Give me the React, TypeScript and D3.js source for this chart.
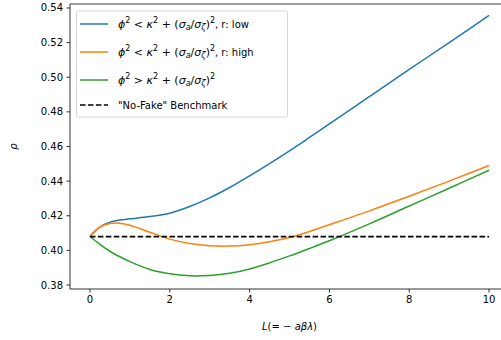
import React from 'react';
import * as d3 from 'd3';

// values
const lVals = [0, 0.25, 0.5, 0.75, 1, 1.5, 2, 2.5, 3, 3.5, 4, 4.5, 5, 5.5, 6, 7, 8, 9, 10];
const lowR = [0.408, 0.4135, 0.4163, 0.4175, 0.4182, 0.4195, 0.4215, 0.4253, 0.4303, 0.4363, 0.443, 0.4501, 0.4575, 0.4652, 0.473, 0.4888, 0.5045, 0.5200, 0.5357];
const highR = [0.408, 0.4135, 0.4155, 0.4157, 0.4145, 0.4105, 0.4065, 0.404, 0.4027, 0.4025, 0.4033, 0.405, 0.4074, 0.4109, 0.4148, 0.4228, 0.4313, 0.44, 0.449];
const overK = [0.408, 0.4035, 0.3995, 0.3963, 0.3935, 0.389, 0.3865, 0.3853, 0.3855, 0.3868, 0.3893, 0.3928, 0.3968, 0.4011, 0.4056, 0.4153, 0.4256, 0.4359, 0.4463];
const benchmark = 0.408;

const xTicks = [0, 2, 4, 6, 8, 10];
const yTicks = [0.38, 0.40, 0.42, 0.44, 0.46, 0.48, 0.50, 0.52, 0.54];

const seriesNames = ['low', 'high', 'over'];
const seriesColors = ['#1f77b4', '#ff7f0e', '#2ca02c'];

const font = 'DejaVu Sans, sans-serif';

const MathLabel: React.FC<{ x: number; y: number; op: string; tail: string }> = ({ x, y, op, tail }) => (
    <text x={x} y={y} fontFamily={font} fontSize={11} fill="#000" dominantBaseline="central">
        <tspan fontStyle="italic">ϕ</tspan>
        <tspan fontSize={8} dy={-4.5}>2</tspan>
        <tspan dy={4.5}>{' ' + op + ' '}</tspan>
        <tspan fontStyle="italic">κ</tspan>
        <tspan fontSize={8} dy={-4.5}>2</tspan>
        <tspan dy={4.5}>{' + ('}</tspan>
        <tspan fontStyle="italic">σ</tspan>
        <tspan fontStyle="italic" fontSize={8} dy={2.5}>a</tspan>
        <tspan dy={-2.5}>/</tspan>
        <tspan fontStyle="italic">σ</tspan>
        <tspan fontStyle="italic" fontSize={8} dy={2.5}>ζ</tspan>
        <tspan dy={-2.5}>)</tspan>
        <tspan fontSize={8} dy={-4.5}>2</tspan>
        <tspan dy={4.5} fontSize={10}>{tail}</tspan>
    </text>
);

export default function App() {
    const width = 501;
    const height = 340;
    const margin = { top: 4, left: 70, bottom: 289, right: 509 };

    const xScale = d3.scaleLinear().domain([-0.5, 10.5]).range([margin.left, margin.right]);
    const yScale = d3.scaleLinear().domain([0.37769, 0.54231]).range([margin.bottom, margin.top]);

    const line = d3.line<[number, number]>()
        .x(d => xScale(d[0]))
        .y(d => yScale(d[1]))
        .curve(d3.curveCatmullRom.alpha(0.5));

    const allSeries = [lowR, highR, overK];

    const legendRows = [24, 52, 80, 105];

    return (
        <div>
            <style>{`body{margin:0}`}</style>
            <svg width={width} height={height} style={{ display: 'block', background: '#fff' }}>
                <defs>
                    <clipPath id="plot">
                        <rect x={margin.left} y={margin.top} width={margin.right - margin.left} height={margin.bottom - margin.top} />
                    </clipPath>
                </defs>

                <g clipPath="url(#plot)">
                    {allSeries.map((vals, i) => (
                        <path key={seriesNames[i]}
                            d={line(lVals.map((l, j) => [l, vals[j]] as [number, number])) || ''}
                            fill="none" stroke={seriesColors[i]} strokeWidth={1.5} />
                    ))}
                    <line x1={xScale(0)} x2={xScale(10)} y1={yScale(benchmark)} y2={yScale(benchmark)}
                        stroke="#000" strokeWidth={1.7} strokeDasharray="5.55,2.4" />
                </g>

                {/* spines */}
                <line x1={margin.left} x2={margin.left} y1={margin.top} y2={margin.bottom} stroke="#000" strokeWidth={0.8} />
                <line x1={margin.left} x2={margin.right} y1={margin.bottom} y2={margin.bottom} stroke="#000" strokeWidth={0.8} />
                <line x1={margin.left} x2={margin.right} y1={margin.top} y2={margin.top} stroke="#000" strokeWidth={0.8} />

                {/* x ticks */}
                {xTicks.map(t => (
                    <g key={'x' + t}>
                        <line x1={xScale(t)} x2={xScale(t)} y1={margin.bottom} y2={margin.bottom + 3.5} stroke="#000" strokeWidth={0.8} />
                        <text x={xScale(t)} y={margin.bottom + 13.5} textAnchor="middle" fontFamily={font} fontSize={10} fill="#000">{t}</text>
                    </g>
                ))}

                {/* y ticks */}
                {yTicks.map(t => (
                    <g key={'y' + t}>
                        <line x1={margin.left - 3.5} x2={margin.left} y1={yScale(t)} y2={yScale(t)} stroke="#000" strokeWidth={0.8} />
                        <text x={margin.left - 7} y={yScale(t)} dy="0.35em" textAnchor="end" fontFamily={font} fontSize={10} fill="#000">{t.toFixed(2)}</text>
                    </g>
                ))}

                {/* axis labels */}
                <text x={xScale(5)} y={330} textAnchor="middle" fontFamily={font} fontSize={10} fill="#000">
                    <tspan fontStyle="italic">L</tspan>(= − <tspan fontStyle="italic">aβλ</tspan>)
                </text>
                <text transform={`translate(17, ${(margin.top + margin.bottom) / 2}) rotate(-90)`} textAnchor="middle"
                    fontFamily={font} fontSize={10} fontStyle="italic" fill="#000">ρ</text>

                {/* legend */}
                <rect x={76.5} y={11} width={211} height={106} rx={2} fill="#fff" fillOpacity={0.8} stroke="#ccc" strokeWidth={0.8} />
                {seriesColors.map((c, i) => (
                    <line key={'lg' + i} x1={80} x2={108} y1={legendRows[i]} y2={legendRows[i]} stroke={c} strokeWidth={1.5} />
                ))}
                <line x1={80} x2={108} y1={legendRows[3]} y2={legendRows[3]} stroke="#000" strokeWidth={1.7} strokeDasharray="5.55,2.4" />
                <MathLabel x={118} y={legendRows[0]} op="<" tail=", r: low" />
                <MathLabel x={118} y={legendRows[1]} op="<" tail=", r: high" />
                <MathLabel x={118} y={legendRows[2]} op=">" tail="" />
                <text x={118} y={legendRows[3]} dy="0.35em" fontFamily={font} fontSize={10} fill="#000">"No-Fake" Benchmark</text>
            </svg>
        </div>
    );
}
